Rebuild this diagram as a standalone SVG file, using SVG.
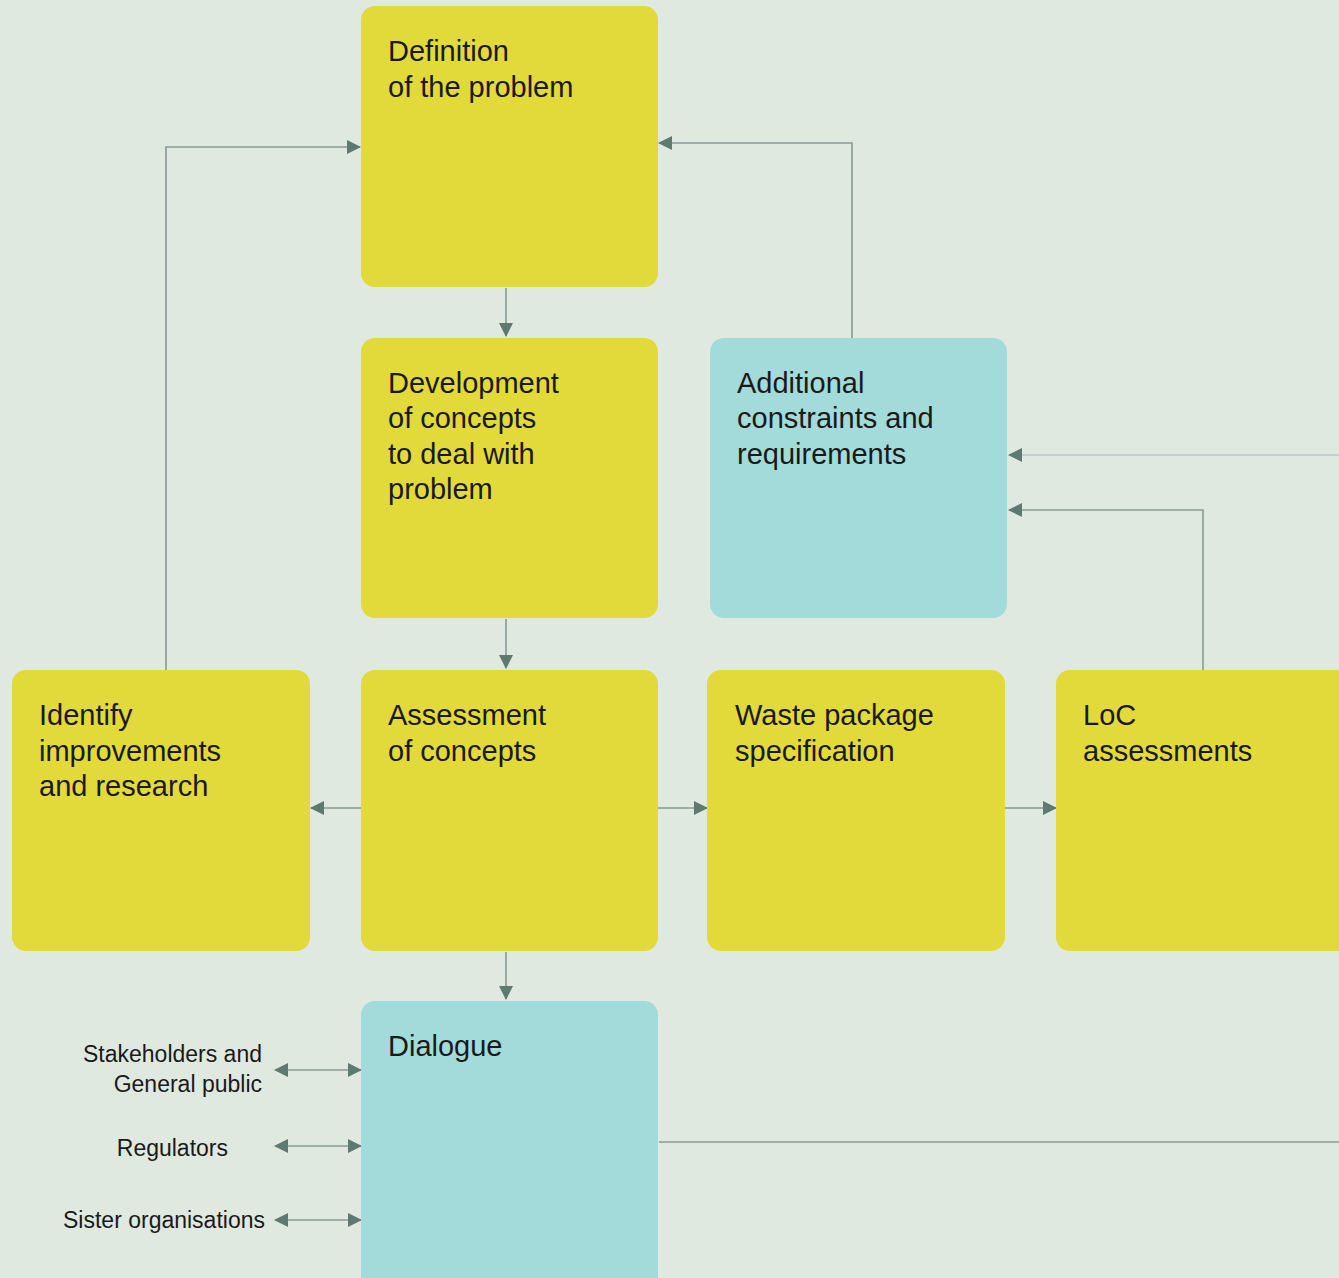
<svg xmlns="http://www.w3.org/2000/svg" width="1339" height="1278" viewBox="0 0 1339 1278">
<style>
.y{fill:#e2d93a}
.t{fill:#a2dbd9}
.lbl{font-family:"Liberation Sans",Arial,sans-serif;font-size:29px;fill:#1a1a1a}
.sm{font-family:"Liberation Sans",Arial,sans-serif;font-size:23px;fill:#1a1a1a}
.c{fill:none;stroke:#869a93;stroke-width:1.6}
.cl{fill:none;stroke:#b9c8c2;stroke-width:1.6}
</style>
<defs>
<marker id="ah" viewBox="0 0 14 14" refX="13" refY="7" markerWidth="14" markerHeight="14" markerUnits="userSpaceOnUse" orient="auto-start-reverse">
<path d="M0,0 L14,7 L0,14 Z" fill="#5e7a70"/>
</marker>
</defs>
<rect width="1339" height="1278" fill="#dfe9e0"/>
<g id="connectors">
<line class="c" x1="506" y1="288" x2="506" y2="336" marker-end="url(#ah)"/>
<line class="c" x1="506" y1="619" x2="506" y2="668" marker-end="url(#ah)"/>
<line class="c" x1="506" y1="952" x2="506" y2="999" marker-end="url(#ah)"/>
<line class="c" x1="361" y1="808" x2="311" y2="808" marker-end="url(#ah)"/>
<line class="c" x1="658" y1="808" x2="707" y2="808" marker-end="url(#ah)"/>
<line class="c" x1="1005" y1="808" x2="1056" y2="808" marker-end="url(#ah)"/>
<polyline class="c" points="166,670 166,147 360,147" marker-end="url(#ah)"/>
<polyline class="c" points="852,338 852,143 659,143" marker-end="url(#ah)"/>
<line class="cl" x1="1339" y1="455" x2="1009" y2="455" marker-end="url(#ah)"/>
<polyline class="c" points="1203,670 1203,510 1009,510" marker-end="url(#ah)"/>
<line class="c" x1="659" y1="1142" x2="1339" y2="1142"/>
<line class="c" x1="275" y1="1070" x2="361" y2="1070" marker-start="url(#ah)" marker-end="url(#ah)"/>
<line class="c" x1="275" y1="1146" x2="361" y2="1146" marker-start="url(#ah)" marker-end="url(#ah)"/>
<line class="c" x1="275" y1="1220" x2="361" y2="1220" marker-start="url(#ah)" marker-end="url(#ah)"/>
</g>
<g id="definition">
<rect class="y" x="361" y="6" width="297" height="281" rx="14"/>
<text class="lbl" x="388" y="61">Definition</text>
<text class="lbl" x="388" y="97">of the problem</text>
</g>
<g id="development">
<rect class="y" x="361" y="338" width="297" height="280" rx="14"/>
<text class="lbl" x="388" y="393">Development</text>
<text class="lbl" x="388" y="428">of concepts</text>
<text class="lbl" x="388" y="464">to deal with</text>
<text class="lbl" x="388" y="499">problem</text>
</g>
<g id="additional">
<rect class="t" x="710" y="338" width="297" height="280" rx="14"/>
<text class="lbl" x="737" y="393">Additional</text>
<text class="lbl" x="737" y="428">constraints and</text>
<text class="lbl" x="737" y="464">requirements</text>
</g>
<g id="identify">
<rect class="y" x="12" y="670" width="298" height="281" rx="14"/>
<text class="lbl" x="39" y="725">Identify</text>
<text class="lbl" x="39" y="761">improvements</text>
<text class="lbl" x="39" y="796">and research</text>
</g>
<g id="assessment">
<rect class="y" x="361" y="670" width="297" height="281" rx="14"/>
<text class="lbl" x="388" y="725">Assessment</text>
<text class="lbl" x="388" y="761">of concepts</text>
</g>
<g id="waste">
<rect class="y" x="707" y="670" width="298" height="281" rx="14"/>
<text class="lbl" x="735" y="725">Waste package</text>
<text class="lbl" x="735" y="761">specification</text>
</g>
<g id="loc">
<rect class="y" x="1056" y="670" width="320" height="281" rx="14"/>
<text class="lbl" x="1083" y="725">LoC</text>
<text class="lbl" x="1083" y="761">assessments</text>
</g>
<g id="dialogue">
<rect class="t" x="361" y="1001" width="297" height="300" rx="14"/>
<text class="lbl" x="388" y="1056">Dialogue</text>
</g>
<g id="labels">
<text class="sm" x="262" y="1062" text-anchor="end">Stakeholders and</text>
<text class="sm" x="262" y="1092" text-anchor="end">General public</text>
<text class="sm" x="228" y="1156" text-anchor="end">Regulators</text>
<text class="sm" x="265" y="1228" text-anchor="end">Sister organisations</text>
</g>
</svg>
